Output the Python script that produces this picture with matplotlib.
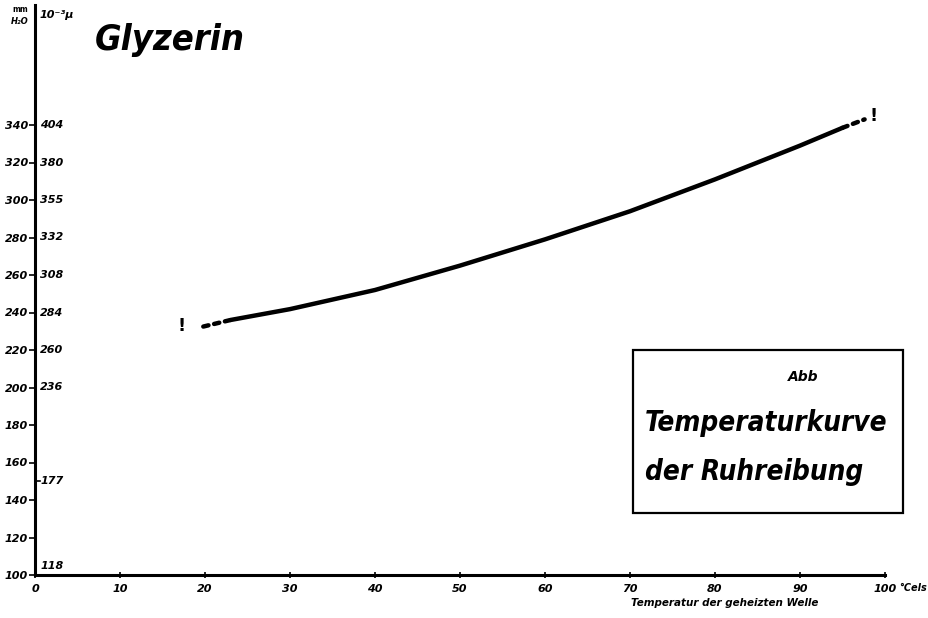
import matplotlib
matplotlib.use("Agg")
import matplotlib.pyplot as plt
from matplotlib.patches import Rectangle
import matplotlib.transforms as mtransforms

# ---- data ----
x_ticks = [0, 10, 20, 30, 40, 50, 60, 70, 80, 90, 100]
y_ticks = [100, 120, 140, 160, 180, 200, 220, 240, 260, 280, 300, 320, 340]
sec_labels = ["404", "380", "355", "332", "308", "284", "260", "236", "177", "118"]
sec_pos = [340, 320, 300, 280, 260, 240, 220, 200, 150, 100]

curve_x = [23, 30, 40, 50, 60, 70, 80, 90, 95]
curve_y = [236, 241.8, 252, 265, 279, 294, 311, 329, 338.5]
left_dash_x = [19.8, 23]
left_dash_y = [232.5, 236]
right_dash_x = [95, 97.6]
right_dash_y = [338.5, 343]
marker_x = [17.2, 98.6]
marker_y = [233, 345]

plt.rcParams['font.family'] = ['DejaVu Sans']

fig = plt.figure(figsize=(9.29, 6.18), dpi=100)
ax = fig.add_axes([35/929, 1 - 575/618, (885 - 35)/929, (575 - 5)/618])
ax.set_xlim(0, 100)
ax.set_ylim(100, 404)

for s in ['top', 'right']:
    ax.spines[s].set_visible(False)
ax.spines['left'].set_linewidth(2.2)
ax.spines['bottom'].set_linewidth(2.2)

lab_font = dict(fontsize=8, fontweight='bold', fontstyle='italic')
ax.set_xticks(x_ticks)
ax.set_xticklabels([str(v) for v in x_ticks], **lab_font)
ax.set_yticks(y_ticks)
ax.set_yticklabels([str(v) for v in y_ticks], **lab_font)
ax.tick_params(axis='x', direction='inout', length=5, width=1.2, pad=4)
ax.tick_params(axis='y', direction='out', length=4, width=1.2, pad=1)

# secondary inner labels (10^-3 mu scale)
trans = mtransforms.blended_transform_factory(ax.transAxes, ax.transData)
for lab, p in zip(sec_labels, sec_pos):
    va = 'bottom' if p == 100 else 'center'
    ax.text(0.006, p + (2 if p == 100 else 0), lab, transform=trans, ha='left', va=va,
            fontsize=8, fontweight='bold', fontstyle='italic')
ax.plot([0, 0.6], [150, 150], color='black', lw=1.2, clip_on=False)

# curve
ax.plot(curve_x, curve_y, color='black', lw=3.2, solid_capstyle='round',
        solid_joinstyle='round')
ax.plot(left_dash_x, left_dash_y, color='black', lw=3.2, linestyle=(0, (1.2, 1.3)),
        dash_capstyle='round')
ax.plot(right_dash_x, right_dash_y, color='black', lw=3.2, linestyle=(0, (1.2, 1.3)),
        dash_capstyle='round')
for mx, my in zip(marker_x, marker_y):
    ax.text(mx, my, "!", ha='center', va='center', fontsize=13, fontweight='bold')

# title and axis annotations
fig.text(95/929, 1 - 40/618, "Glyzerin", fontsize=26, fontweight='bold',
         fontstyle='italic', fontstretch='condensed', va='center', ha='left')
fig.text(20/929, 1 - 10/618, "mm", fontsize=5.5, fontweight='bold', ha='center', va='center')
fig.text(20/929, 1 - 22/618, "H₂O", fontsize=6, fontweight='bold', fontstyle='italic',
         ha='center', va='center')
fig.text(40/929, 1 - 15/618, "10⁻³µ", fontsize=8, fontweight='bold', fontstyle='italic',
         ha='left', va='center')
fig.text(899/929, 1 - 588/618, "°Cels", fontsize=7, fontweight='bold', fontstyle='italic',
         ha='left', va='center')
fig.text(725/929, 1 - 603/618, "Temperatur der geheizten Welle", fontsize=7.5,
         fontweight='bold', fontstyle='italic', ha='center', va='center')

# caption box
box = Rectangle((633/929, 1 - 513/618), (903 - 633)/929, (513 - 350)/618,
                transform=fig.transFigure, fill=False, edgecolor='black', lw=1.6)
fig.patches.append(box)
fig.text(803/929, 1 - 377/618, "Abb", fontsize=10, fontweight='bold', fontstyle='italic',
         ha='center', va='center')
fig.text(645/929, 1 - 423/618, "Temperaturkurve", fontsize=20, fontweight='bold',
         fontstyle='italic', fontstretch='condensed', ha='left', va='center')
fig.text(645/929, 1 - 472/618, "der Ruhreibung", fontsize=20, fontweight='bold',
         fontstyle='italic', fontstretch='condensed', ha='left', va='center')

fig.savefig("out.png", dpi=100)
